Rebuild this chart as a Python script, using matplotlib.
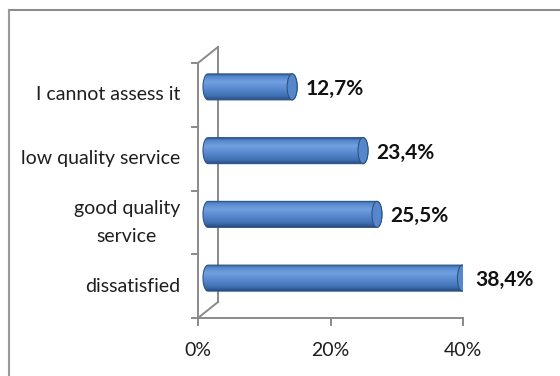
import numpy as np
import matplotlib
matplotlib.use("Agg")
import matplotlib.pyplot as plt
from matplotlib.path import Path
from matplotlib.patches import PathPatch, Ellipse
from matplotlib.lines import Line2D
from matplotlib.colors import to_rgb

plt.rcParams['font.family'] = ['Lato', 'DejaVu Sans']

categories = ["dissatisfied", "good quality\nservice", "low quality service", "I cannot assess it"]
values = [38.4, 25.5, 23.4, 12.7]
value_labels = ["38,4%", "25,5%", "23,4%", "12,7%"]
xticks = [0, 20, 40]
xtick_labels = ["0%", "20%", "40%"]

W, H = 560, 376
fig = plt.figure(figsize=(W / 100, H / 100), dpi=100)

# front plane of the plot: x 198..463 px, y 63..318 px (from top)
ax = fig.add_axes([198 / W, (H - 318) / H, 265 / W, 255 / H])
ax.set_xlim(0, 40)
ax.set_ylim(0, 4)
ax.axis('off')

px_x = 40 / 265.0   # percent per pixel
px_y = 4 / 255.0    # category units per pixel
depth_x, depth_y = 20 * px_x, 16 * px_y        # full depth of the 3-D box
mid_x, mid_y = depth_x / 2, depth_y / 2        # bars sit in the middle
half_h = 13 * px_y
cap_w = 5 * px_x

grey = '#8a8a8a'
lw = 1.4
txt = '#1e1e1e'

# box edges: front vertical, back vertical, diagonals, floor line
ax.plot([0, 0], [0, 4], color=grey, lw=lw, clip_on=False, solid_capstyle='butt')
ax.plot([depth_x, depth_x], [depth_y, 4 + depth_y], color=grey, lw=lw, clip_on=False)
ax.plot([0, depth_x], [4, 4 + depth_y], color=grey, lw=lw, clip_on=False)
ax.plot([0, depth_x], [0, depth_y], color=grey, lw=lw, clip_on=False)
ax.plot([0, 40], [0, 0], color=grey, lw=lw, clip_on=False)
for yy in range(5):
    ax.plot([-6 * px_x, 0], [yy, yy], color=grey, lw=lw, clip_on=False)
for xx, xl in zip(xticks, xtick_labels):
    ax.plot([xx, xx], [0, -7 * px_y], color=grey, lw=lw, clip_on=False)
    ax.text(xx, -32 * px_y, xl, ha='center', va='center', fontsize=14, color=txt)

for i, cat in enumerate(categories):
    ax.text(-18 * px_x, i + 0.5, cat, ha='right', va='center', fontsize=14,
            color=txt, multialignment='center', linespacing=1.75)

# vertical colour profile of the cylinder (top -> bottom)
stops = [(0.0, '#2d5a92'), (0.08, '#5284c8'), (0.3, '#72a1e0'),
         (0.55, '#5b8bd0'), (0.85, '#3e6fb2'), (1.0, '#26497c')]
t = np.linspace(0, 1, 200)
grad = np.zeros((200, 1, 3))
for c in range(3):
    grad[:, 0, c] = np.interp(t, [s[0] for s in stops], [to_rgb(s[1])[c] for s in stops])

for i, (v, lab) in enumerate(zip(values, value_labels)):
    yc = i + 0.5 + mid_y
    x0 = mid_x
    x1 = v + mid_x
    th = np.linspace(np.pi / 2, 3 * np.pi / 2, 40)
    left = np.column_stack([x0 + cap_w * np.cos(th), yc + half_h * np.sin(th)])
    th2 = np.linspace(-np.pi / 2, np.pi / 2, 40)
    right = np.column_stack([x1 + cap_w * np.cos(th2), yc + half_h * np.sin(th2)])
    verts = np.vstack([left, right, left[:1]])
    silhouette = Path(verts, closed=True)
    outline = PathPatch(silhouette, facecolor='none', edgecolor='#2c5486', lw=0.8,
                        zorder=4)
    im = ax.imshow(grad, extent=[x0 - cap_w, x1 + cap_w, yc - half_h, yc + half_h],
                   aspect='auto', origin='upper', zorder=3, interpolation='bilinear')
    clip = PathPatch(silhouette, transform=ax.transData, facecolor='none', edgecolor='none')
    ax.add_patch(clip)
    im.set_clip_path(clip)
    ax.add_patch(outline)
    cap = Ellipse((x1, yc), 2 * cap_w, 2 * half_h, facecolor='#5687cb',
                  edgecolor='#2c5486', lw=0.8, zorder=5)
    ax.add_patch(cap)
    ax.text(x1 + cap_w + 8 * px_x, yc - 2 * px_y, lab, ha='left', va='center',
            fontsize=15, fontweight='bold', color='#111111')

ax.set_xlim(0, 40)
ax.set_ylim(0, 4)

# outer frame (top and left edges visible)
fig.add_artist(Line2D([9 / W, 1], [1 - 10 / H, 1 - 10 / H], color='#8c8c8c', lw=1.5,
                      transform=fig.transFigure))
fig.add_artist(Line2D([9 / W, 9 / W], [0, 1 - 10 / H], color='#9a9a9a', lw=1.5,
                      transform=fig.transFigure))

fig.savefig("out.png", dpi=100)
